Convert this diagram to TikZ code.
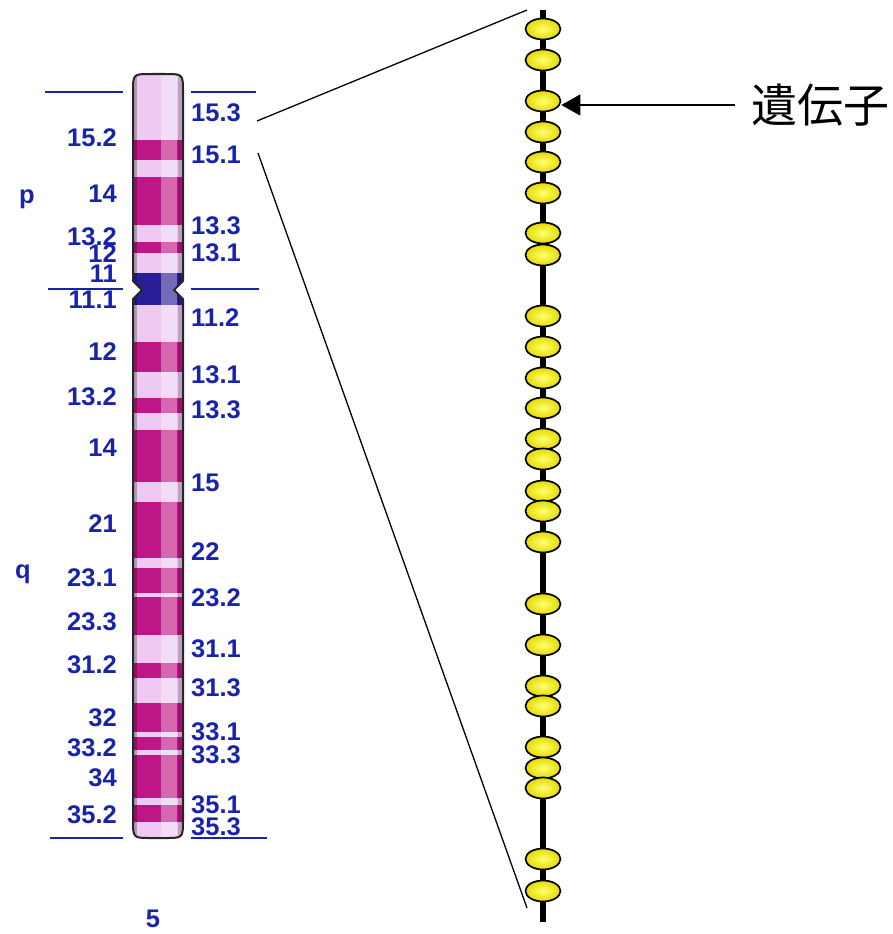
\documentclass[tikz,border=0pt]{standalone}
\usepackage{fontspec}
\setmainfont{Liberation Sans}
\newfontfamily\cjk{Noto Sans CJK JP}
\usetikzlibrary{shapes.geometric,arrows.meta}

\definecolor{bandblue}{RGB}{25,35,170}
\definecolor{gdark}{RGB}{190,22,135}
\definecolor{glight}{RGB}{238,202,242}
\definecolor{cenblue}{RGB}{42,30,150}

\tikzset{
  lbl/.style={inner sep=0pt, text=bandblue, font=\fontsize{25.5}{25.5}\selectfont\bfseries},
  gene/.style={ellipse, draw=black, line width=1.7pt, minimum width=35pt,
    minimum height=21pt, inner sep=0pt, inner color=yellow!55!white,
    outer color={rgb,255:red,228;green,218;blue,0}},
  bandline/.style={bandblue, line width=1.5pt}
}

% outline of chromosome 5, centromere notch at y=290
\def\chrpath{(142,290) -- (133,281) -- (133,92) .. controls (133,74) .. (151,74)
  -- (165,74) .. controls (183,74) .. (183,92) -- (183,281) -- (174,290)
  -- (183,299) -- (183,820) .. controls (183,838) .. (165,838) -- (151,838)
  .. controls (133,838) .. (133,820) -- (133,299) -- cycle}

\begin{document}
\begin{tikzpicture}[x=1pt,y=-1pt]
  \useasboundingbox (0,0) rectangle (892,934);

  % band boundaries
  \draw[bandline] (45,92) -- (123,92);   \draw[bandline] (191,92) -- (256,92);
  \draw[bandline] (48,289) -- (123,289); \draw[bandline] (191,289) -- (259,289);
  \draw[bandline] (50,838) -- (123,838); \draw[bandline] (191,838) -- (267,838);

  \begin{scope}
    \clip \chrpath;
    \fill[glight] (120,60) rectangle (200,850);
    \foreach \a/\b in {140/160,177/225,242/253,342/372,398/413,430/482,502/558,
                       568/593,597/635,663/678,703/732,737/750,755/798,805/822}
      \fill[gdark] (120,\a) rectangle (200,\b);
    \fill[cenblue] (120,273) rectangle (200,305);
    % shine along the right side
    \fill[white,opacity=.35] (161,60) rectangle (177,850);
    \fill[black,opacity=.25] (133,60) rectangle (137,850);
    \fill[black,opacity=.2] (178,60) rectangle (183,850);
  \end{scope}
  \draw[line width=2pt, black!85] \chrpath;

  % left labels
  \foreach \t/\y [count=\i] in {15.2/138,14/194,13.2/237,12/254,11/274,11.1/300,
      12/352,13.2/397,14/448,21/524,23.1/578,23.3/622,31.2/665,32/718,33.2/748,
      34/778,35.2/815}
    \node[lbl, anchor=east] (l\i) at (117,\y) {\t};
  % right labels
  \foreach \t/\y [count=\i] in {15.3/113,15.1/155,13.3/226,13.1/253,11.2/318,
      13.1/375,13.3/410,15/483,22/552,23.2/598,31.1/649,31.3/688,33.1/732,
      33.3/755,35.1/805,35.3/827}
    \node[lbl, anchor=west] (r\i) at (191,\y) {\t};
  \node[lbl] (parm) at (27,199) {p};
  \node[lbl] (qarm) at (23,574) {q};
  \node[lbl] (chrno) at (153,919) {5};

  % the stretch of DNA with its genes
  \coordinate (dtop) at (543,10);
  \coordinate (dbot) at (543,922);
  \draw[line width=5.5pt] (dtop) -- (dbot);
  \foreach \y [count=\i] in {29,60,101,132,162,193,233,255,316,347,378,408,439,
      459,491,511,542,604,645,686,706,747,768,788,859,891}
    \node[gene] (g\i) at (543,\y) {};

  % zoom lines
  \coordinate (zt) at (257,121);
  \coordinate (zb) at (258,153);
  \coordinate (st) at (527,10);
  \coordinate (sb) at (527,908);
  \draw[line width=1.3pt] (zt) -- (st);
  \draw[line width=1.3pt] (zb) -- (sb);

  \node[anchor=west, inner sep=0pt, font=\cjk\fontsize{46}{46}\selectfont] (gene) at (751,105) {遺伝子};
  \draw[line width=1.5pt, -{Triangle[length=19pt,width=21pt]}] ([xshift=-16pt]gene.west) -- (gene.west -| g3.east);
\end{tikzpicture}
\end{document}
